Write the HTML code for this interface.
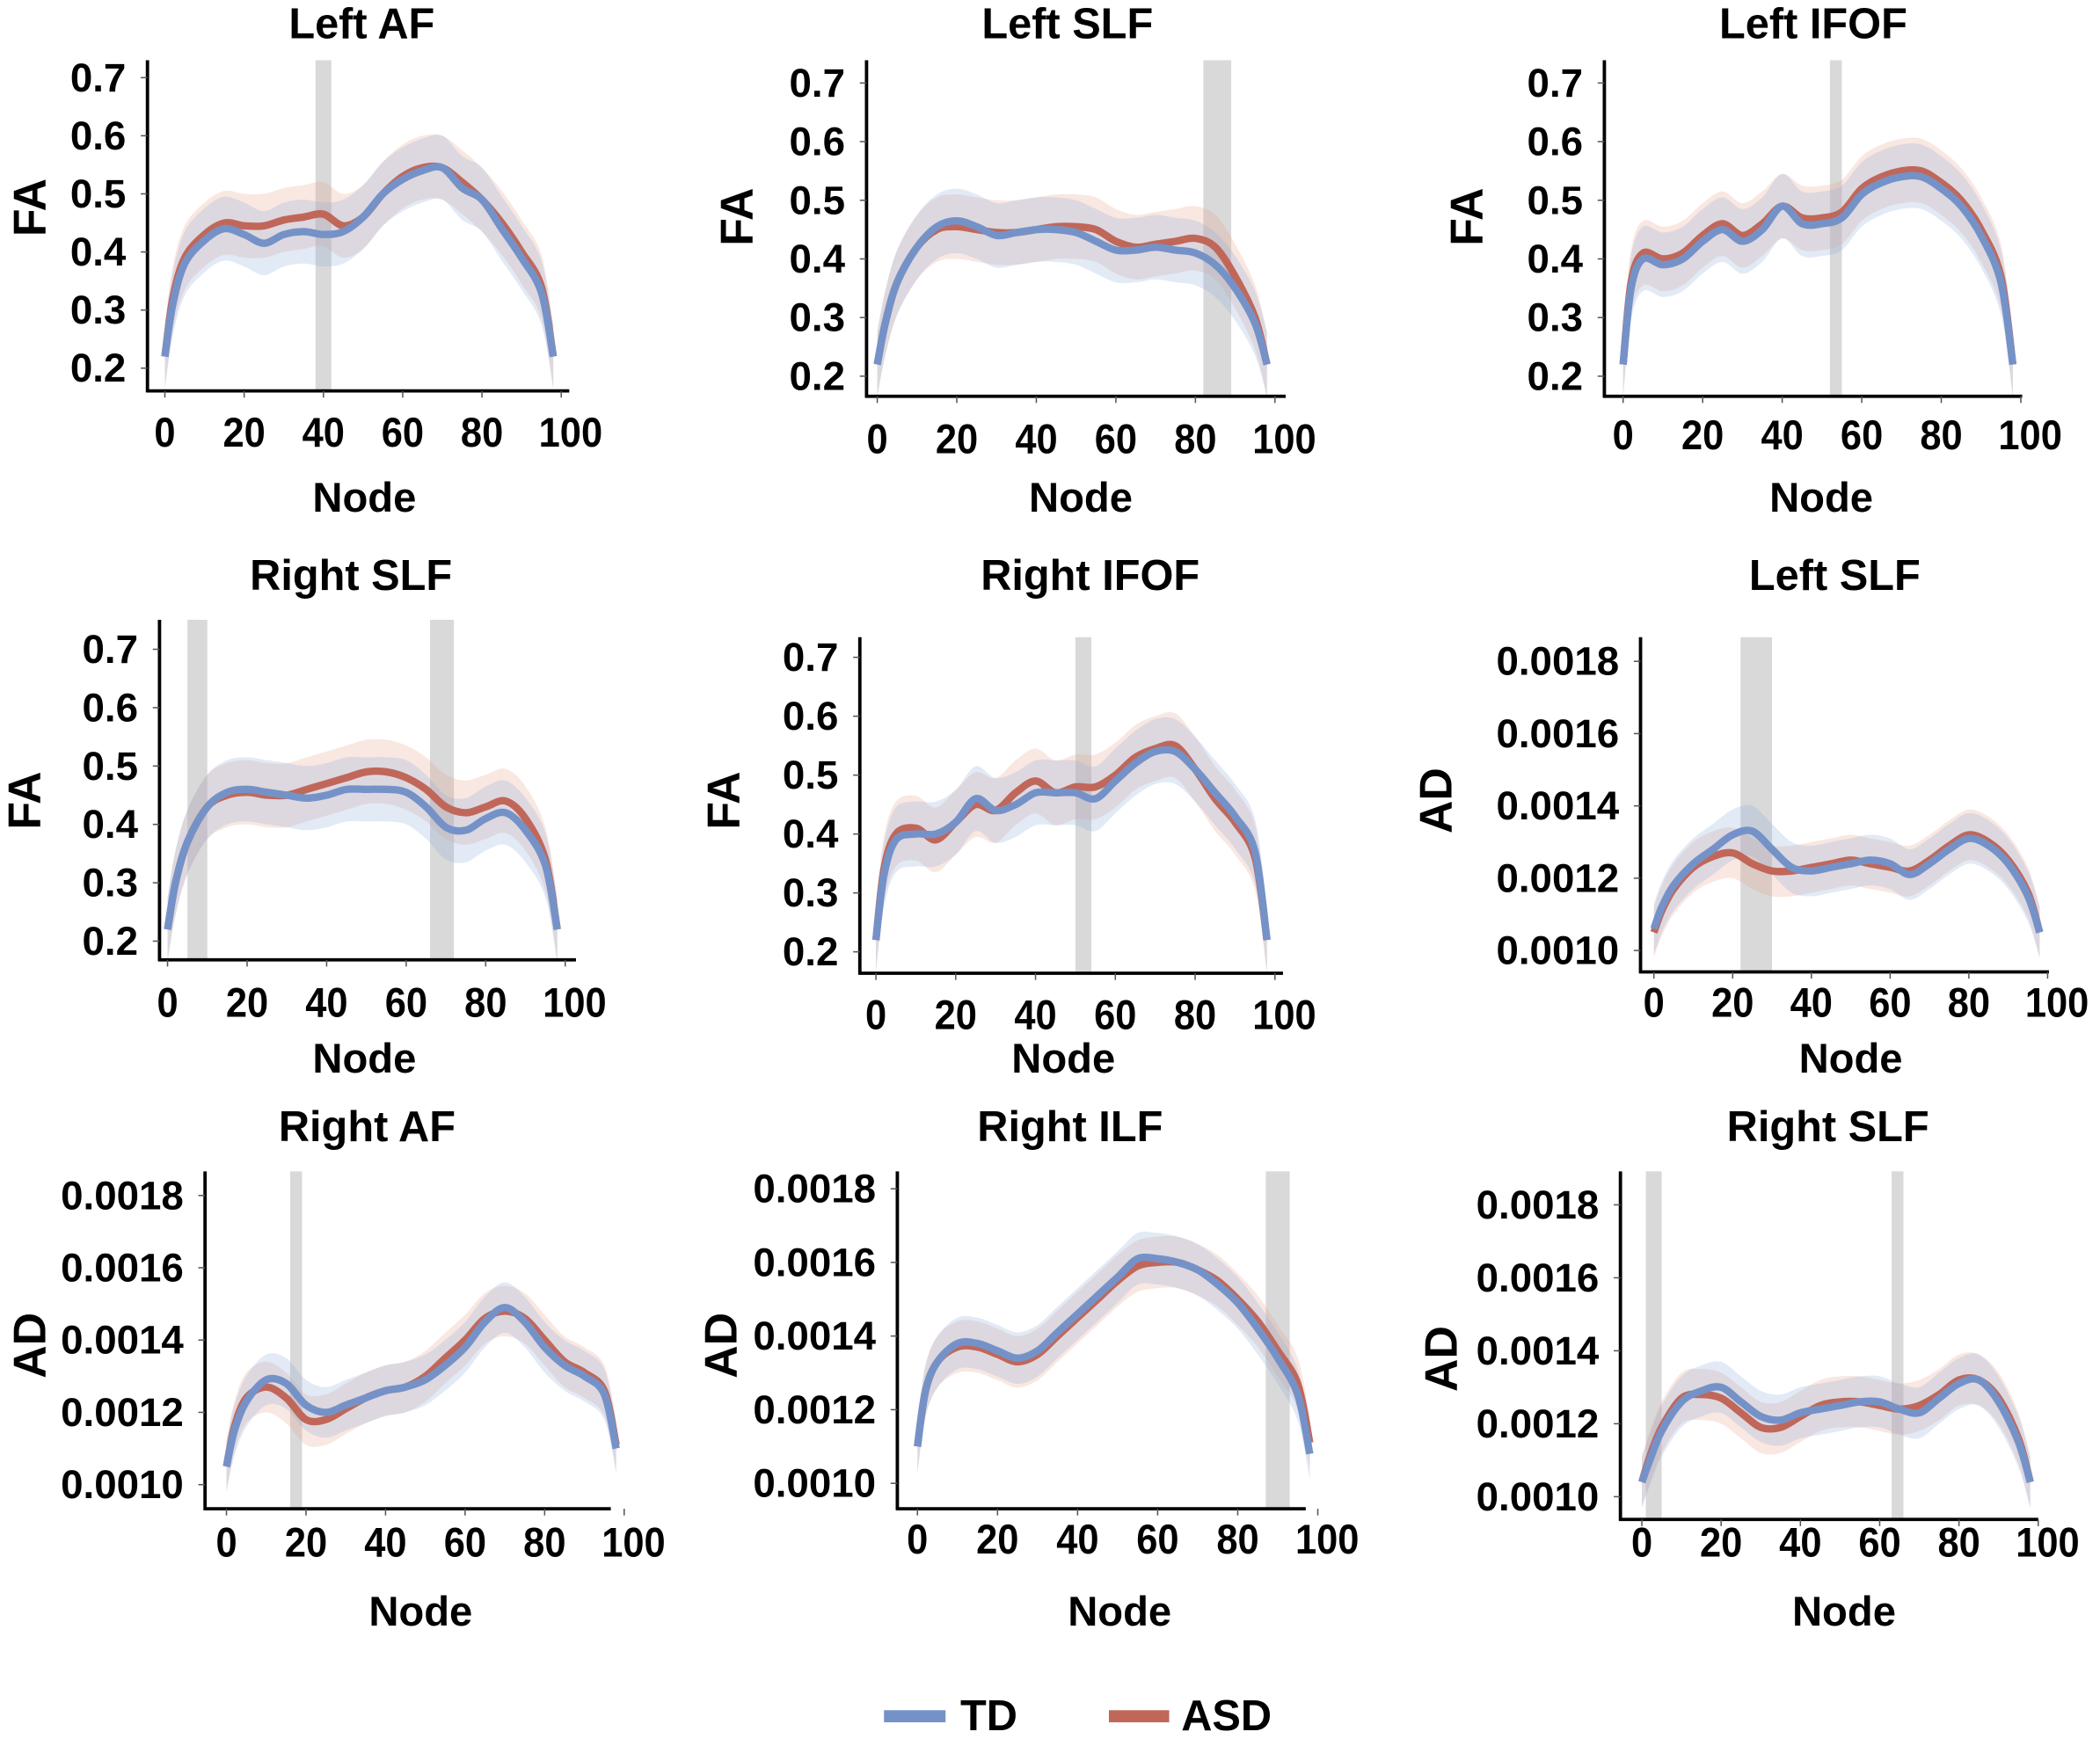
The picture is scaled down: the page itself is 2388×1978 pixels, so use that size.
<!DOCTYPE html>
<html><head><meta charset="utf-8">
<style>html,body{margin:0;padding:0;background:#fff}svg{display:block}text{font-family:"Liberation Sans",Arial,sans-serif;font-weight:bold;fill:#000}</style>
</head><body>
<svg id="fig" width="2388" height="1978" viewBox="0 0 1568 1299" xmlns="http://www.w3.org/2000/svg"></svg>
<script>
const nodes=[0,2,5,10,15,20,25,30,35,40,45,50,55,60,65,70,75,80,85,90,95,98];
const titles=["Left AF","Left SLF","Left IFOF","Right SLF","Right  IFOF","Left SLF","Right AF","Right ILF","Right SLF"];
const metrics=["FA","FA","FA","FA","FA","AD","AD","AD","AD"];
const faTicks=[0.7,0.6,0.5,0.4,0.3,0.2];
const faTickLabels=["0.7","0.6","0.5","0.4","0.3","0.2"];
const adTicks=[0.0018,0.0016,0.0014,0.0012,0.0010];
const adTickLabels=["0.0018","0.0016","0.0014","0.0012","0.0010"];
const xTicks=[0,20,40,60,80,100];
const xTickLabels=["0","20","40","60","80","100"];
const tdLeftAF=[.22,.31,.38,.42,.44,.43,.415,.43,.435,.43,.435,.46,.50,.525,.54,.545,.51,.49,.44,.39,.33,.22];
const asdLeftAF=[.22,.32,.39,.43,.45,.445,.445,.455,.46,.465,.445,.46,.50,.53,.545,.545,.52,.49,.45,.40,.34,.22];
const tdLeftSLF=[.22,.29,.36,.42,.455,.465,.455,.44,.445,.45,.45,.445,.43,.415,.415,.42,.415,.41,.39,.35,.29,.22];
const asdLeftSLF=[.22,.29,.36,.42,.45,.455,.45,.445,.445,.45,.455,.455,.45,.43,.42,.425,.43,.435,.42,.37,.30,.22];
const tdLeftIFOF=[.22,.35,.40,.39,.40,.43,.45,.43,.45,.49,.46,.46,.47,.51,.53,.54,.54,.52,.49,.44,.36,.22];
const asdLeftIFOF=[.22,.36,.41,.40,.41,.44,.46,.44,.46,.49,.47,.47,.48,.52,.54,.55,.55,.53,.50,.45,.37,.22];
const tdRightSLF=[.22,.30,.37,.43,.455,.46,.455,.45,.445,.45,.46,.46,.46,.455,.43,.395,.39,.41,.42,.39,.33,.22];
const asdRightSLF=[.22,.30,.37,.43,.45,.455,.45,.45,.46,.47,.48,.49,.49,.48,.46,.43,.42,.43,.44,.41,.34,.22];
const tdRightIFOF=[.22,.33,.39,.40,.40,.42,.46,.44,.45,.47,.47,.47,.46,.49,.52,.54,.54,.51,.47,.43,.37,.22];
const asdRightIFOF=[.22,.34,.40,.41,.39,.42,.45,.44,.47,.49,.47,.48,.48,.50,.53,.545,.55,.51,.46,.42,.36,.22];
const tdLeftSLFAD=[.00106,.00112,.00118,.00124,.00128,.00132,.00133,.00128,.00123,.00122,.00123,.00124,.00125,.00124,.00121,.00124,.00128,.00131,.00129,.00124,.00115,.00105];
const asdLeftSLFAD=[.00105,.00111,.00117,.00123,.00126,.00127,.00124,.00122,.00122,.00123,.00124,.00125,.00124,.00123,.00122,.00125,.00129,.00132,.00130,.00125,.00116,.00105];
const tdRightAF=[.00105,.00115,.00123,.00129,.00128,.00122,.00120,.00122,.00124,.00126,.00127,.00129,.00133,.00138,.00145,.00149,.00145,.00138,.00133,.00130,.00125,.00110];
const asdRightAF=[.00105,.00116,.00124,.00127,.00124,.00118,.00118,.00121,.00124,.00126,.00127,.00130,.00135,.00140,.00146,.00148,.00146,.00140,.00134,.00131,.00126,.00111];
const tdRightILF=[.00110,.00125,.00133,.00138,.00138,.00136,.00134,.00136,.00141,.00146,.00151,.00156,.00161,.00161,.00160,.00158,.00154,.00149,.00142,.00134,.00124,.00108];
const asdRightILF=[.00110,.00125,.00133,.00137,.00137,.00135,.00133,.00135,.00140,.00145,.00150,.00155,.00159,.00160,.00160,.00158,.00155,.00150,.00144,.00136,.00127,.00111];
const tdRightSLFAD=[.00104,.00110,.00118,.00126,.00129,.00130,.00126,.00122,.00121,.00123,.00124,.00125,.00126,.00126,.00124,.00123,.00127,.00131,.00132,.00126,.00115,.00104];
const asdRightSLFAD=[.00104,.00111,.00119,.00127,.00128,.00127,.00123,.00119,.00119,.00122,.00125,.00126,.00126,.00125,.00124,.00125,.00128,.00132,.00132,.00127,.00116,.00104];
const tdSeries=[tdLeftAF,tdLeftSLF,tdLeftIFOF,tdRightSLF,tdRightIFOF,tdLeftSLFAD,tdRightAF,tdRightILF,tdRightSLFAD];
const asdSeries=[asdLeftAF,asdLeftSLF,asdLeftIFOF,asdRightSLF,asdRightIFOF,asdLeftSLFAD,asdRightAF,asdRightILF,asdRightSLFAD];
const faSD=0.055, adSD=0.00007;
const sigRegions=[[[38,42]],[[82,89]],[[52,55]],[[5,10],[66,72]],[[50,54]],[[22,30]],[[16,19]],[[87,93]],[[1,5],[63,66]]];

const L=[
 {ax:110,top:45,bot:292,right:425,yHi:58,yLo:275,x0:123,x100:419,xl:323,nx:272,ny:372,tx:270,ty:18,mx:22,my:155},
 {ax:647,top:45,bot:296,right:960,yHi:62,yLo:281,x0:655,x100:952,xl:328,nx:807,ny:372,tx:797,ty:18,mx:550,my:162},
 {ax:1198,top:45,bot:296,right:1510,yHi:62,yLo:281,x0:1212,x100:1509,xl:325,nx:1360,ny:372,tx:1354,ty:18,mx:1095,my:162},
 {ax:119,top:463,bot:717,right:430,yHi:485,yLo:703,x0:125,x100:422,xl:749,nx:272,ny:791,tx:262,ty:430,mx:18,my:598},
 {ax:642,top:476,bot:727,right:958,yHi:491,yLo:711,x0:654,x100:952,xl:758,nx:794,ny:791,tx:814,ty:430,mx:540,my:598},
 {ax:1225,top:476,bot:726,right:1530,yHi:494,yLo:710,x0:1235,x100:1529,xl:749,nx:1382,ny:791,tx:1370,ty:430,mx:1072,my:598},
 {ax:153,top:875,bot:1127,right:456,yHi:893,yLo:1109,x0:169,x100:466,xl:1152,nx:314,ny:1204,tx:274,ty:842,mx:22,my:1005},
 {ax:670,top:875,bot:1127,right:975,yHi:888,yLo:1108,x0:685,x100:984,xl:1150,nx:836,ny:1204,tx:799,ty:842,mx:538,my:1005},
 {ax:1210,top:875,bot:1135,right:1522,yHi:900,yLo:1118,x0:1226,x100:1522,xl:1152,nx:1377,ny:1204,tx:1365,ty:842,mx:1076,my:1015}
];
const NS="http://www.w3.org/2000/svg";
const svg=document.getElementById('fig');
function mk(tag,attrs,parent){const e=document.createElementNS(NS,tag);for(const k in attrs)e.setAttribute(k,attrs[k]);(parent||svg).appendChild(e);return e;}
function smooth(pts){let d="M"+pts[0][0]+","+pts[0][1];for(let i=0;i<pts.length-1;i++){const p0=pts[Math.max(0,i-1)],p1=pts[i],p2=pts[i+1],p3=pts[Math.min(pts.length-1,i+2)];const c1x=p1[0]+(p2[0]-p0[0])/6,c1y=p1[1]+(p2[1]-p0[1])/6,c2x=p2[0]-(p3[0]-p1[0])/6,c2y=p2[1]-(p3[1]-p1[1])/6;d+=" C"+c1x+","+c1y+" "+c2x+","+c2y+" "+p2[0]+","+p2[1];}return d;}

for(let p=0;p<9;p++){
 const l=L[p], isFA=metrics[p]==="FA";
 const hiV=isFA?0.7:0.0018, loV=isFA?0.2:0.0010;
 const ys=v=>l.yHi+(hiV-v)/(hiV-loV)*(l.yLo-l.yHi);
 const xs=n=>l.x0+n/100*(l.x100-l.x0);
 const g=mk('g',{});
 
 
 const t=mk('text',{x:l.tx,y:l.ty,'text-anchor':'middle','dominant-baseline':'central','font-size':32},g);
 t.textContent=titles[p];
 
 
 const m=mk('text',{transform:`translate(${l.mx},${l.my}) rotate(-90)`,'text-anchor':'middle','dominant-baseline':'central','font-size':34},g);
 m.textContent=metrics[p];
 
 
 sigRegions[p].forEach(r=>{const rc=mk('rect',{x:xs(r[0]),y:l.top,width:xs(r[1])-xs(r[0]),height:l.bot-l.top,fill:'#d9d9d9'},g);
  
  });
 const sd=isFA?faSD:adSD;
 const groups=[[asdSeries[p],'rgba(232,160,135,0.25)','#c0675a','asd'],[tdSeries[p],'rgba(140,170,220,0.25)','#7592c8','td']];
 groups.forEach(([vals,fill])=>{
  const up=nodes.map((n,i)=>[xs(n),ys(vals[i]+sd)]);
  const dn=nodes.map((n,i)=>[xs(n),ys(vals[i]-sd)]).reverse();
  const b=mk('path',{d:smooth(up)+" L"+dn[0][0]+","+dn[0][1]+smooth(dn).replace(/^M[^C]*/,' ')+" Z",fill:fill},g);
  
  
 });
 groups.forEach(([vals,,col,nm])=>{
  const pts=nodes.map((n,i)=>[xs(n),ys(vals[i])]);
  const ln=mk('path',{d:smooth(pts),fill:'none',stroke:col,'stroke-width':5.5,'stroke-linejoin':'round'},g);
  
  
 });
 const ya=mk('line',{x1:l.ax,y1:l.top,x2:l.ax,y2:l.bot+1,stroke:'#000','stroke-width':2.5},g);
 
 
 const xa=mk('line',{x1:l.ax-1,y1:l.bot,x2:l.right,y2:l.bot,stroke:'#000','stroke-width':2.5},g);
 
 
 const yt=isFA?faTicks:adTicks, ytl=isFA?faTickLabels:adTickLabels;
 yt.forEach((v,i)=>{const y=ys(v);
  mk('line',{x1:l.ax-5,y1:y,x2:l.ax,y2:y,stroke:'#555','stroke-width':1},g);
  const tx=mk('text',{transform:`translate(${l.ax-16},${y})`,'text-anchor':'end','dominant-baseline':'central','font-size':30},g);
  tx.textContent=ytl[i];
  
  
 });
 xTicks.forEach((v,i)=>{const x=xs(v);
  mk('line',{x1:x,y1:l.bot,x2:x,y2:l.bot+5,stroke:'#555','stroke-width':1},g);
  const tx=mk('text',{transform:`translate(${x+(v===100?7:0)},${l.xl}) scale(0.92,1)`,'text-anchor':'middle','dominant-baseline':'central','font-size':31},g);
  tx.textContent=xTickLabels[i];
  
  
 });
 const nt=mk('text',{x:l.nx,y:l.ny,'text-anchor':'middle','dominant-baseline':'central','font-size':31},g);
 nt.textContent="Node";
 
 
}
const lg=mk('g',{});


[[660,706,'#7592c8','TD',717],[828,873,'#c0675a','ASD',882]].forEach(([a,b,c,txt,tx])=>{
 const e=mk('line',{x1:a,y1:1282,x2:b,y2:1282,stroke:c,'stroke-width':9},lg);
 
 
 const t=mk('text',{x:tx,y:1282,'dominant-baseline':'central','font-size':32},lg);
 t.textContent=txt;
 
 
});
</script>
</body></html>
